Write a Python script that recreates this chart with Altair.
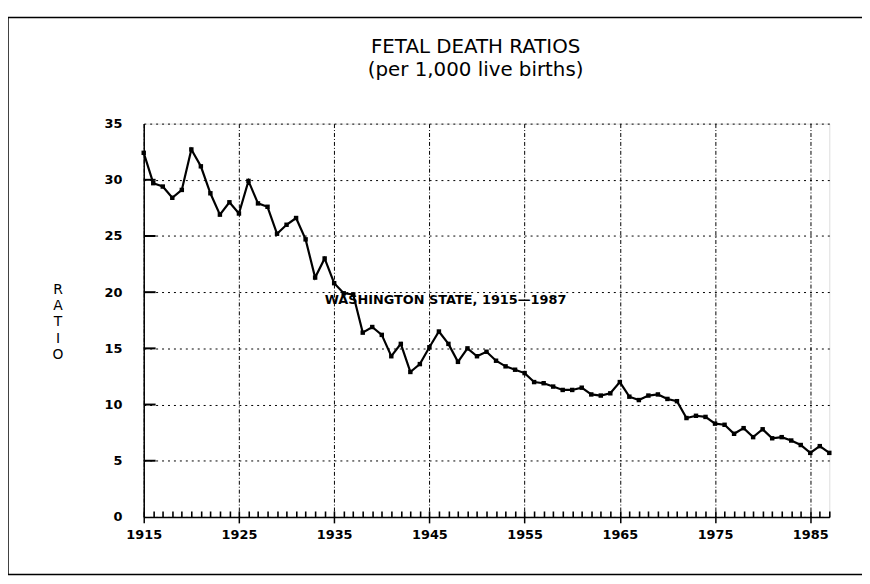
import altair as alt
import pandas as pd

years = list(range(1915, 1988))
ratios = [
    32.4, 29.7, 29.4, 28.4, 29.1, 32.7, 31.2, 28.8, 26.9, 28.0,
    27.0, 29.9, 27.9, 27.6, 25.2, 26.0, 26.6, 24.7, 21.3, 23.0,
    20.8, 19.9, 19.8, 16.4, 16.9, 16.2, 14.3, 15.4, 12.9, 13.6,
    15.1, 16.5, 15.4, 13.8, 15.0, 14.3, 14.7, 13.9, 13.4, 13.1,
    12.8, 12.0, 11.9, 11.6, 11.3, 11.3, 11.5, 10.9, 10.8, 11.0,
    12.0, 10.7, 10.4, 10.8, 10.9, 10.5, 10.3, 8.8, 9.0, 8.9,
    8.3, 8.2, 7.4, 7.9, 7.1, 7.8, 7.0, 7.1, 6.8, 6.4,
    5.7, 6.3, 5.7,
]
x_ticks = [1915, 1925, 1935, 1945, 1955, 1965, 1975, 1985]
y_ticks = [0, 5, 10, 15, 20, 25, 30, 35]
inner_y_ticks = [5, 10, 15, 20, 25, 30]
title_lines = ["FETAL DEATH RATIOS", "(per 1,000 live births)"]
annotation_text = ["WASHINGTON STATE, 1915\u20141987"]
annotation_year = [1934.0]
annotation_value = [19.3]

W, H = 692, 397

df = pd.DataFrame({"year": years, "ratio": ratios})
minor_df = pd.DataFrame({"yr": years})
yt_df = pd.DataFrame({"v": inner_y_ticks})
ann_df = pd.DataFrame({"year": annotation_year, "ratio": annotation_value, "label": annotation_text})
one = pd.DataFrame({"k": [0]})

xscale = alt.Scale(domain=[1915, 1987], nice=False, zero=False)
yscale = alt.Scale(domain=[0, 35], nice=False)

xaxis = alt.Axis(values=x_ticks, format="d", title=None, grid=True,
                 gridDash=[4, 2, 1, 2], gridColor="black", gridWidth=1, gridOpacity=1,
                 domainColor="black", domainWidth=1.5, tickColor="black", tickSize=6,
                 tickWidth=1.5, labelFont="DejaVu Sans", labelFontWeight="bold",
                 labelFontSize=13, labelColor="black", labelPadding=6,
                 labelFlush=False, labelOverlap=False)
yaxis = alt.Axis(values=y_ticks, title=["R", "A", "T", "I", "O"], grid=True,
                 gridDash=[2, 4], gridColor="black", gridWidth=1, gridOpacity=1,
                 domainColor="black", domainWidth=1.5, ticks=False,
                 labelFont="DejaVu Sans", labelFontWeight="bold", labelFontSize=13,
                 labelColor="black", labelPadding=22, labelFlush=False,
                 titleAngle=0, titleFont="DejaVu Sans", titleFontWeight="normal",
                 titleFontSize=14, titleLineHeight=16.5, titleColor="black",
                 titleX=-87, titleY=167, titleAlign="center", titleBaseline="middle")
# inner comb of yearly ticks standing on the x axis
minor_axis = alt.Axis(orient="top", offset=-H, values=years, labels=False,
                      domain=False, grid=False, title=None, tickSize=6,
                      tickColor="black", tickWidth=1.6)

line = alt.Chart(df).mark_line(
    color="black", strokeWidth=2.2,
    point=alt.OverlayMarkDef(filled=True, shape="square", size=20, color="black"),
).encode(
    x=alt.X("year:Q", scale=xscale, axis=xaxis),
    y=alt.Y("ratio:Q", scale=yscale, axis=yaxis),
)

ytick = alt.Chart(yt_df).mark_rule(color="black", strokeWidth=2).encode(
    y=alt.Y("v:Q", scale=yscale),
    x=alt.value(0),
    x2=alt.value(12),
)

ann = alt.Chart(ann_df).mark_text(
    align="left", baseline="middle", font="DejaVu Sans", fontWeight="bold",
    fontSize=13, color="black",
).encode(
    x=alt.X("year:Q", scale=xscale),
    y=alt.Y("ratio:Q", scale=yscale),
    text="label:N",
)

title1 = alt.Chart(one).mark_text(
    text=title_lines[0], font="DejaVu Sans", fontSize=20, color="black",
    align="center", baseline="middle",
).encode(x=alt.value(335), y=alt.value(-77))
title2 = alt.Chart(one).mark_text(
    text=title_lines[1], font="DejaVu Sans", fontSize=20, color="black",
    align="center", baseline="middle",
).encode(x=alt.value(335), y=alt.value(-54))

frame_top = alt.Chart(one).mark_rule(color="black", strokeWidth=1.5).encode(
    x=alt.value(-137), x2=alt.value(725), y=alt.value(-107))
frame_left = alt.Chart(one).mark_rule(color="black", strokeWidth=1.5).encode(
    x=alt.value(-137), y=alt.value(-107), y2=alt.value(455))
frame_bottom = alt.Chart(one).mark_rule(color="black", strokeWidth=1.5).encode(
    x=alt.value(-137), x2=alt.value(725), y=alt.value(455))

main = alt.layer(line, ytick, ann, title1, title2, frame_top, frame_left, frame_bottom)

minor = alt.Chart(minor_df).mark_point(opacity=0).encode(
    x=alt.X("yr:Q", scale=xscale, axis=minor_axis),
    y=alt.value(H),
)

chart = alt.layer(main, minor).resolve_scale(x="independent").properties(
    width=W, height=H,
    autosize=alt.AutoSizeParams(type="none"),
    padding={"left": 137, "top": 114, "right": 33, "bottom": 65},
).configure_view(stroke="black", strokeWidth=1.5).configure(background="white")

chart.save("out.html", embed_options={"renderer": "svg", "actions": False})
